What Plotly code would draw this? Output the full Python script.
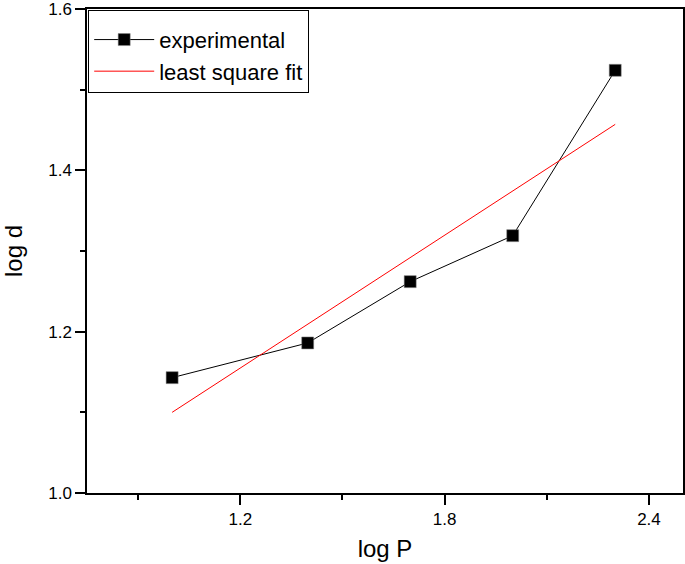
import plotly.graph_objects as go

exp_x = [1.0, 1.398, 1.699, 2.0, 2.301]
exp_y = [1.143, 1.186, 1.262, 1.319, 1.524]
fit_x = [1.0, 2.301]
fit_y = [1.100, 1.457]
x_ticks = [1.2, 1.8, 2.4]
y_ticks = [1.0, 1.2, 1.4, 1.6]

fig = go.Figure()
fig.add_trace(go.Scatter(x=exp_x, y=exp_y, mode="lines+markers", name="experimental",
                         line=dict(color="black", width=1),
                         marker=dict(symbol="square", size=12, color="black",
                                     line=dict(color="#888", width=0.5))))
fig.add_trace(go.Scatter(x=fit_x, y=fit_y, mode="lines", name="least square fit",
                         line=dict(color="red", width=1)))

font = "Liberation Sans, Arial, sans-serif"
fig.update_layout(
    width=685, height=564,
    margin=dict(l=87, r=2, t=9, b=71, autoexpand=False),
    plot_bgcolor="white", paper_bgcolor="white",
    font=dict(family=font, color="black", size=17),
    showlegend=True,
    legend=dict(x=0.002, y=0.998, xanchor="left", yanchor="top",
                bordercolor="black", borderwidth=1, bgcolor="white",
                font=dict(size=22, family=font), itemwidth=60,
                title=dict(text="&nbsp;", font=dict(size=6)),
                tracegroupgap=0),
    xaxis=dict(range=[0.75, 2.5], tickmode="array", tickvals=x_ticks,
               ticktext=[f"{v:.1f}" for v in x_ticks],
               automargin=False, ticklabeloverflow="allow",
               showline=True, linecolor="black", linewidth=1.5, mirror=True,
               ticks="outside", ticklen=10, tickwidth=1.5, tickcolor="black",
               showgrid=False, zeroline=False,
               minor=dict(tick0=0.9, dtick=0.3, ticks="outside", ticklen=5,
                          tickwidth=1.5, tickcolor="black", showgrid=False),
               title=dict(text="log P", font=dict(size=24), standoff=12)),
    yaxis=dict(range=[1.0, 1.6], tickmode="array", tickvals=y_ticks,
               ticktext=[f"{v:.1f}" for v in y_ticks],
               automargin=False, ticklabeloverflow="allow",
               showline=True, linecolor="black", linewidth=1.5, mirror=True,
               ticks="outside", ticklen=10, tickwidth=1.5, tickcolor="black",
               showgrid=False, zeroline=False,
               minor=dict(tick0=1.1, dtick=0.2, ticks="outside", ticklen=5,
                          tickwidth=1.5, tickcolor="black", showgrid=False),
               title=dict(text="log d", font=dict(size=24), standoff=24)),
)
fig.write_html("out.html", config={"displayModeBar": False},
               post_script="document.body.style.margin='0px';")
